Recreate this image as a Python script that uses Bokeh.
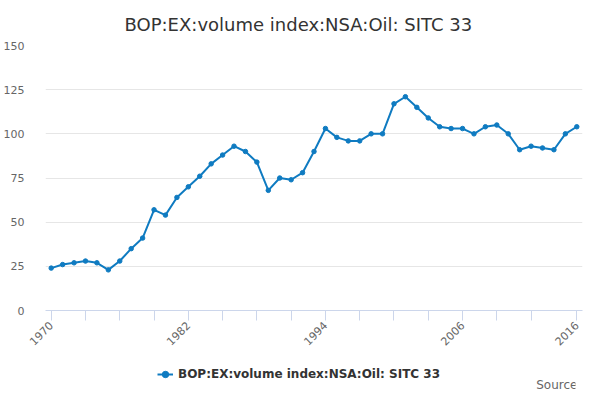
import math
from bokeh.plotting import figure
from bokeh.layouts import column
from bokeh.models import (ColumnDataSource, FixedTicker, Legend, LegendItem,
                          Range1d, Label)
from bokeh.embed import file_html
from bokeh.resources import INLINE

title_text = "BOP:EX:volume index:NSA:Oil: SITC 33"
series_name = "BOP:EX:volume index:NSA:Oil: SITC 33"
source_text = "Source:"
years = [1970, 1971, 1972, 1973, 1974, 1975, 1976, 1977, 1978, 1979,
         1980, 1981, 1982, 1983, 1984, 1985, 1986, 1987, 1988, 1989,
         1990, 1991, 1992, 1993, 1994, 1995, 1996, 1997, 1998, 1999,
         2000, 2001, 2002, 2003, 2004, 2005, 2006, 2007, 2008, 2009,
         2010, 2011, 2012, 2013, 2014, 2015, 2016]
values = [24, 26, 27, 28, 27, 23, 28, 35, 41, 57,
          54, 64, 70, 76, 83, 88, 93, 90, 84, 68,
          75, 74, 78, 90, 103, 98, 96, 96, 100, 100,
          117, 121, 115, 109, 104, 103, 103, 100, 104, 105,
          100, 91, 93, 92, 91, 100, 104]
x_ticks = [1970, 1973, 1976, 1979, 1982, 1985, 1988, 1991, 1994, 1997,
           2000, 2003, 2006, 2009, 2012, 2016]
x_labels = {1970: "1970", 1982: "1982", 1994: "1994", 2006: "2006", 2016: "2016"}
y_ticks = [0, 25, 50, 75, 100, 125, 150]

FONT = "DejaVu Sans"
LINE = "#0f7bc1"

src = ColumnDataSource(dict(x=years, y=values))

# ---- main chart ----
p = figure(frame_width=537, frame_height=265, output_backend="svg", toolbar_location=None,
           x_range=Range1d(1969.5, 2016.5), y_range=Range1d(0, 150),
           min_border_left=38, min_border_right=9, min_border_top=38,
           min_border_bottom=46)
p.outline_line_color = None
p.background_fill_color = "white"
p.border_fill_color = "white"

p.title.text = title_text
p.title.align = "left"
p.title.offset = 79
p.title.text_font = FONT
p.title.text_font_size = "18px"
p.title.text_font_style = "normal"
p.title.text_color = "#333333"
p.title.standoff = 22

p.line("x", "y", source=src, line_color=LINE, line_width=2)
p.scatter("x", "y", source=src, size=4.5, fill_color=LINE, line_color=LINE)

xa = p.xaxis[0]
xa.ticker = FixedTicker(ticks=x_ticks)
xa.major_label_overrides = {t: x_labels.get(t, "") for t in x_ticks}
xa.major_label_orientation = math.pi / 4
xa.axis_line_color = "#ccd6eb"
xa.major_tick_line_color = "#ccd6eb"
xa.major_tick_out = 10
xa.major_tick_in = 0
xa.minor_tick_line_color = None
xa.major_label_text_font = FONT
xa.major_label_text_font_size = "11px"
xa.major_label_text_color = "#666666"
xa.major_label_standoff = 3

ya = p.yaxis[0]
ya.ticker = FixedTicker(ticks=y_ticks)
ya.axis_line_color = None
ya.major_tick_line_color = None
ya.minor_tick_line_color = None
ya.major_label_text_font = FONT
ya.major_label_text_font_size = "11px"
ya.major_label_text_color = "#666666"
ya.major_label_standoff = 15

p.xgrid.grid_line_color = None
p.ygrid.grid_line_color = "#e6e6e6"
p.ygrid.ticker = FixedTicker(ticks=y_ticks)

# ---- legend / source strip (frame aligned with the chart's frame) ----
q = figure(width=584, height=38, output_backend="svg", toolbar_location=None,
           x_range=Range1d(0, 1), y_range=Range1d(0, 1),
           x_axis_type=None, y_axis_type=None,
           min_border_left=0, min_border_right=0, min_border_top=0,
           min_border_bottom=0)
q.outline_line_color = None
q.xgrid.grid_line_color = None
q.ygrid.grid_line_color = None
q.border_fill_color = "white"
q.background_fill_color = "white"

# same series, drawn off this strip's ranges, so only its legend glyph shows
lr = q.line("x", "y", source=src, line_color=LINE, line_width=2)
lc = q.scatter("x", "y", source=src, size=4.5, fill_color=LINE, line_color=LINE)

legend = Legend(items=[LegendItem(label=series_name, renderers=[lr, lc])],
                location=(112, 12), orientation="horizontal",
                label_text_font=FONT, label_text_font_size="12px",
                label_text_font_style="bold", label_text_color="#333333",
                border_line_color=None, background_fill_alpha=0,
                glyph_width=16, glyph_height=16, label_height=16,
                label_standoff=5, padding=2, margin=0)
q.add_layout(legend, "center")

q.add_layout(Label(x=536, y=10, x_units="screen", y_units="screen",
                   text=source_text, text_font=FONT, text_font_size="12px",
                   text_color="#666666", text_align="right",
                   text_baseline="alphabetic"))

open("out.html", "w").write(file_html(column(p, q, spacing=0), INLINE))
